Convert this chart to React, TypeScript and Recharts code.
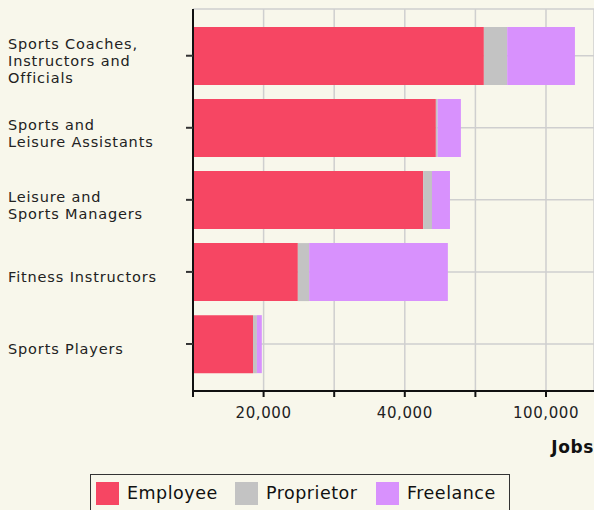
import React from 'react'
import { BarChart, Bar, XAxis, YAxis, CartesianGrid } from 'recharts'

const categories = [
  'Sports Coaches, Instructors and Officials',
  'Sports and Leisure Assistants',
  'Leisure and Sports Managers',
  'Fitness Instructors',
  'Sports Players',
]
const categoryLines: string[][] = [
  ['Sports Coaches,', 'Instructors and', 'Officials'],
  ['Sports and', 'Leisure Assistants'],
  ['Leisure and', 'Sports Managers'],
  ['Fitness Instructors'],
  ['Sports Players'],
]
const employee = [82400, 68800, 65200, 29700, 17000]
const proprietor = [6600, 500, 2500, 3200, 1100]
const freelance = [19200, 6600, 5100, 39300, 1400]

const xTicks = [0, 20000, 40000, 60000, 80000, 100000]
const xTickLabels = ['', '20,000', '', '40,000', '', '100,000']

const series = [
  { key: 'employee', name: 'Employee', color: '#f64663' },
  { key: 'proprietor', name: 'Proprietor', color: '#c3c3c3' },
  { key: 'freelance', name: 'Freelance', color: '#d891fd' },
]
const legendLeft = [5, 144, 285]

const data = categories.map((c, i) => ({
  name: c,
  employee: employee[i],
  proprietor: proprietor[i],
  freelance: freelance[i],
}))

const FONT = "'DejaVu Sans', sans-serif"
const BG = '#f8f7eb'

function YTick({ y, payload }: any) {
  const idx = categories.indexOf(payload.value)
  const lines = categoryLines[idx] ?? [payload.value]
  const fs = 14.5
  const lh = 17
  const first = y + 5 - ((lines.length - 1) * lh) / 2 + fs * 0.36
  return (
    <text x={8} y={first} fontSize={fs} fill="#222" fontFamily={FONT} textAnchor="start" letterSpacing={0.85}>
      {lines.map((l, i) => (
        <tspan key={i} x={8} dy={i === 0 ? 0 : lh}>{l}</tspan>
      ))}
    </text>
  )
}

function JobsLabel({ viewBox }: any) {
  const { x, y, width } = viewBox
  return (
    <text x={x + width} y={y + 62} textAnchor="end" fontSize={17} fontWeight="bold" fill="#111" fontFamily={FONT} letterSpacing={0.6}>
      Jobs
    </text>
  )
}

export default function App() {
  return (
    <div style={{ position: 'absolute', left: 0, top: 0, width: 594, height: 510, background: BG, overflow: 'hidden', fontFamily: FONT }}>
      <BarChart
        width={594}
        height={470}
        data={data}
        layout="vertical"
        barCategoryGap="10%"
        margin={{ top: 9, right: 0, bottom: 0, left: 0 }}
      >
        <CartesianGrid stroke="#cfcfcf" strokeWidth={1.5} />
        <XAxis
          type="number"
          domain={[0, 113600]}
          ticks={xTicks}
          interval={0}
          height={79}
          tickSize={6}
          tickMargin={10}
          axisLine={{ stroke: '#111', strokeWidth: 2 }}
          tickLine={{ stroke: '#111', strokeWidth: 2 }}
          tick={{ fill: '#222', fontSize: 15, fontFamily: FONT, letterSpacing: 0.6 }}
          tickFormatter={(v: number) => xTickLabels[xTicks.indexOf(v)] ?? ''}
          label={<JobsLabel />}
        />
        <YAxis
          type="category"
          dataKey="name"
          width={193}
          tickSize={7}
          padding={{ top: 10.7, bottom: 11 }}
          axisLine={{ stroke: '#111', strokeWidth: 2 }}
          tickLine={{ stroke: '#333', strokeWidth: 2 }}
          tick={<YTick />}
          interval={0}
        />
        {series.map((s) => (
          <Bar key={s.key} dataKey={s.key} name={s.name} stackId="a" fill={s.color} isAnimationActive={false} />
        ))}
      </BarChart>
      <div
        style={{
          position: 'absolute',
          left: 90,
          top: 474,
          width: 420,
          height: 44,
          border: '1.5px solid #333',
          boxSizing: 'border-box',
        }}
      >
        {series.map((s, i) => (
          <div key={s.key} style={{ position: 'absolute', top: 6.5, left: legendLeft[i], display: 'flex', alignItems: 'center' }}>
            <div style={{ width: 23, height: 23, background: s.color }} />
            <span style={{ marginLeft: 8, fontSize: 17.5, color: '#111', lineHeight: '23px', letterSpacing: 0.5 }}>{s.name}</span>
          </div>
        ))}
      </div>
    </div>
  )
}
